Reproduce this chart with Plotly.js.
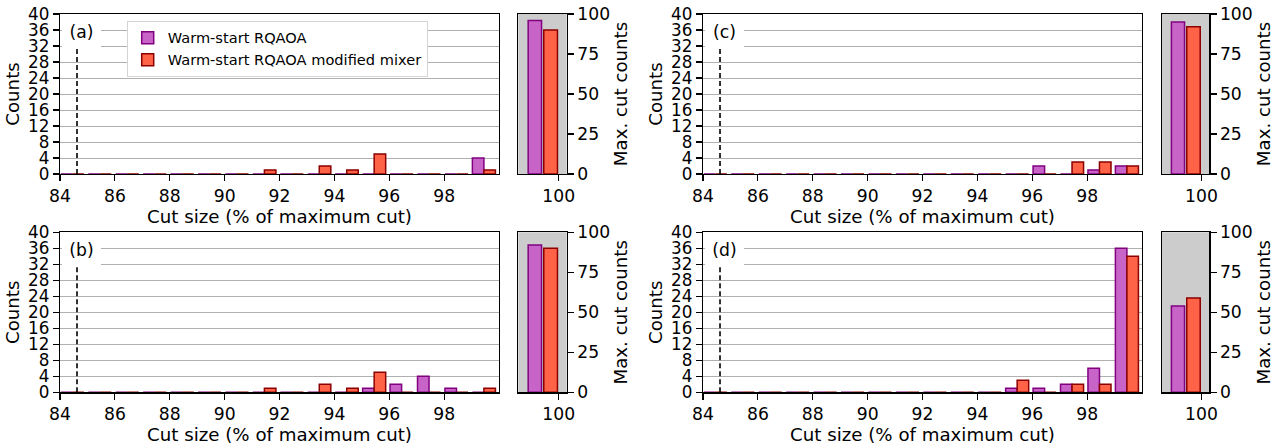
<!DOCTYPE html>
<html><head><meta charset="utf-8">
<script src="https://cdn.plot.ly/plotly-3.0.1.min.js"></script>
<style>html,body{margin:0;padding:0;background:#fff}#chart{width:1281px;height:446px}</style>
</head><body><div id="chart"></div>
<script>
// ---------- data ----------
const cutBins = [84.45,85.45,86.45,87.45,88.45,89.45,90.45,91.45,92.45,93.45,94.45,95.45,96.45,97.45,98.45,99.45];
const xTickVals = [84,86,88,90,92,94,96,98];
const yTickVals = [0,4,8,12,16,20,24,28,32,36,40];
const maxTickVals = [0,25,50,75,100];
const seriesNames = ['Warm-start RQAOA','Warm-start RQAOA modified mixer'];
const panelLabels = ['(a)','(b)','(c)','(d)'];

// counts per bin (16 bins), panel (a)-(d)
const countsA_ws  = [0,0,0,0,0,0,0,0,0,0,0,0,0,0,0,4];
const countsA_mod = [0,0,0,0,0,0,0,1,0,2,1,5,0,0,0,1];
const countsB_ws  = [0,0,0,0,0,0,0,0,0,0,0,1,2,4,1,0];
const countsB_mod = [0,0,0,0,0,0,0,1,0,2,1,5,0,0,0,1];
const countsC_ws  = [0,0,0,0,0,0,0,0,0,0,0,0,2,0,1,2];
const countsC_mod = [0,0,0,0,0,0,0,0,0,0,0,0,0,3,3,2];
const countsD_ws  = [0,0,0,0,0,0,0,0,0,0,0,1,1,2,6,36];
const countsD_mod = [0,0,0,0,0,0,0,0,0,0,0,3,0,2,2,34];

// max. cut counts [ws, modified]
const maxCutA = [96, 90];
const maxCutB = [92, 90];
const maxCutC = [95, 92];
const maxCutD = [54, 59];
const maxCutX = [99.5];
const maxCutTick = [100];

const dashedRef = 84.62;

// ---------- styling ----------
const FONT = 'DejaVu Sans';
const TICK = 17.2, YTICK = 16.8, TITLE = 18.2;
const purple = '#c864c8', purpleEdge = '#800080';
const red = '#ff6347', redEdge = '#8b0000';
const W = 1281, H = 446;

const mainL = [60/W, 499/W], sideL = [518.3/W, 566.7/W];
const mainR = [703/W, 1142/W], sideR = [1161.7/W, 1209.3/W];
const rowTop = [(H-174)/H, (H-14)/H], rowBot = [(H-392.3)/H, (H-232.3)/H];

const panels = [
  {lab: panelLabels[0], ws: countsA_ws, mod: countsA_mod, mc: maxCutA, xd: mainL, sd: sideL, yd: rowTop, n: 1},
  {lab: panelLabels[2], ws: countsC_ws, mod: countsC_mod, mc: maxCutC, xd: mainR, sd: sideR, yd: rowTop, n: 3},
  {lab: panelLabels[1], ws: countsB_ws, mod: countsB_mod, mc: maxCutB, xd: mainL, sd: sideL, yd: rowBot, n: 5},
  {lab: panelLabels[3], ws: countsD_ws, mod: countsD_mod, mc: maxCutD, xd: mainR, sd: sideR, yd: rowBot, n: 7}
];

const traces = [];
const layout = {
  width: W, height: H,
  margin: {l:0, r:0, t:0, b:0},
  paper_bgcolor: '#fff', plot_bgcolor: '#fff',
  font: {family: FONT, size: TICK, color: '#000'},
  barmode: 'overlay',
  showlegend: true,
  legend: {x: 126.7/W, y: (H-20.7)/H, xanchor: 'left', yanchor: 'top',
           bgcolor: '#fff', bordercolor: '#d4d4d4', borderwidth: 1,
           font: {family: FONT, size: 14.6}, traceorder: 'normal'},
  shapes: [], annotations: []
};

const axBase = {ticks: 'outside', ticklen: 6, tickwidth: 1.2, tickcolor: '#000',
  showline: true, linecolor: '#000', linewidth: 1.2, mirror: true, zeroline: false,
  tickfont: {family: FONT, size: TICK, color: '#000'}, fixedrange: true};

function id(n){ return n === 1 ? '' : String(n); }

panels.forEach((p, i) => {
  const mx = 'x' + id(p.n), my = 'y' + id(p.n);
  const sx = 'x' + id(p.n+1), sy = 'y' + id(p.n+1);
  layout['xaxis' + id(p.n)] = Object.assign({}, axBase, {
    domain: p.xd, anchor: my, range: [84, 100], tickvals: xTickVals, showgrid: false,
    title: {text: 'Cut size (% of maximum cut)', font: {family: FONT, size: TITLE}, standoff: 3}
  });
  layout['yaxis' + id(p.n)] = Object.assign({}, axBase, {
    domain: p.yd, anchor: mx, range: [0, 40], tickvals: yTickVals,
    tickfont: {family: FONT, size: YTICK, color: '#000'},
    showgrid: true, gridcolor: '#b0b0b0', gridwidth: 1,
    title: {text: 'Counts', font: {family: FONT, size: TITLE}, standoff: 3}
  });
  layout['xaxis' + id(p.n+1)] = Object.assign({}, axBase, {
    domain: p.sd, anchor: sy, range: [98.73, 100.25], tickvals: maxCutTick, showgrid: false
  });
  layout['yaxis' + id(p.n+1)] = Object.assign({}, axBase, {
    domain: p.yd, anchor: sx, side: 'right', range: [0, 100], tickvals: maxTickVals, showgrid: false,
    title: {text: 'Max. cut counts', font: {family: FONT, size: TITLE}, standoff: 3}
  });

  traces.push({type: 'bar', x: cutBins, y: p.ws, xaxis: mx, yaxis: my, width: 0.42, offset: -0.42,
    name: seriesNames[0], legendgroup: 'ws', showlegend: i === 0,
    marker: {color: purple, line: {color: purpleEdge, width: 1.5}}, hoverinfo: 'skip'});
  traces.push({type: 'bar', x: cutBins, y: p.mod, xaxis: mx, yaxis: my, width: 0.42, offset: 0,
    name: seriesNames[1], legendgroup: 'mod', showlegend: i === 0,
    marker: {color: red, line: {color: redEdge, width: 1.5}}, hoverinfo: 'skip'});
  traces.push({type: 'bar', x: maxCutX, y: [p.mc[0]], xaxis: sx, yaxis: sy, width: 0.42, offset: -0.46,
    name: seriesNames[0], legendgroup: 'ws', showlegend: false,
    marker: {color: purple, line: {color: purpleEdge, width: 1.5}}, hoverinfo: 'skip'});
  traces.push({type: 'bar', x: maxCutX, y: [p.mc[1]], xaxis: sx, yaxis: sy, width: 0.43, offset: 0.03,
    name: seriesNames[1], legendgroup: 'mod', showlegend: false,
    marker: {color: red, line: {color: redEdge, width: 1.5}}, hoverinfo: 'skip'});

  // grey background of side panel
  layout.shapes.push({type: 'rect', xref: sx + ' domain', yref: sy + ' domain', x0: 0, x1: 1, y0: 0, y1: 1,
    fillcolor: '#cccccc', line: {width: 0}, layer: 'below'});
  // dashed reference line
  layout.shapes.push({type: 'line', xref: mx, yref: my, x0: dashedRef, x1: dashedRef, y0: 0, y1: 40,
    line: {color: '#000', width: 1.6, dash: '5px,3px'}, layer: 'above'});
  // panel label with white box
  const leftPx = p.xd[0] * W;
  const topPx = H - p.yd[1] * H;
  layout.annotations.push({text: p.lab, xref: 'paper', yref: 'paper',
    x: (leftPx + 21) / W, y: (H - (topPx + 17.5)) / H, xanchor: 'center', yanchor: 'middle',
    showarrow: false, bgcolor: '#fff', borderpad: 0, borderwidth: 0, width: 39, height: 33,
    font: {family: FONT, size: TICK, color: '#000'}});
});

Plotly.newPlot('chart', traces, layout, {displayModeBar: false, staticPlot: true});
</script>
</body></html>
